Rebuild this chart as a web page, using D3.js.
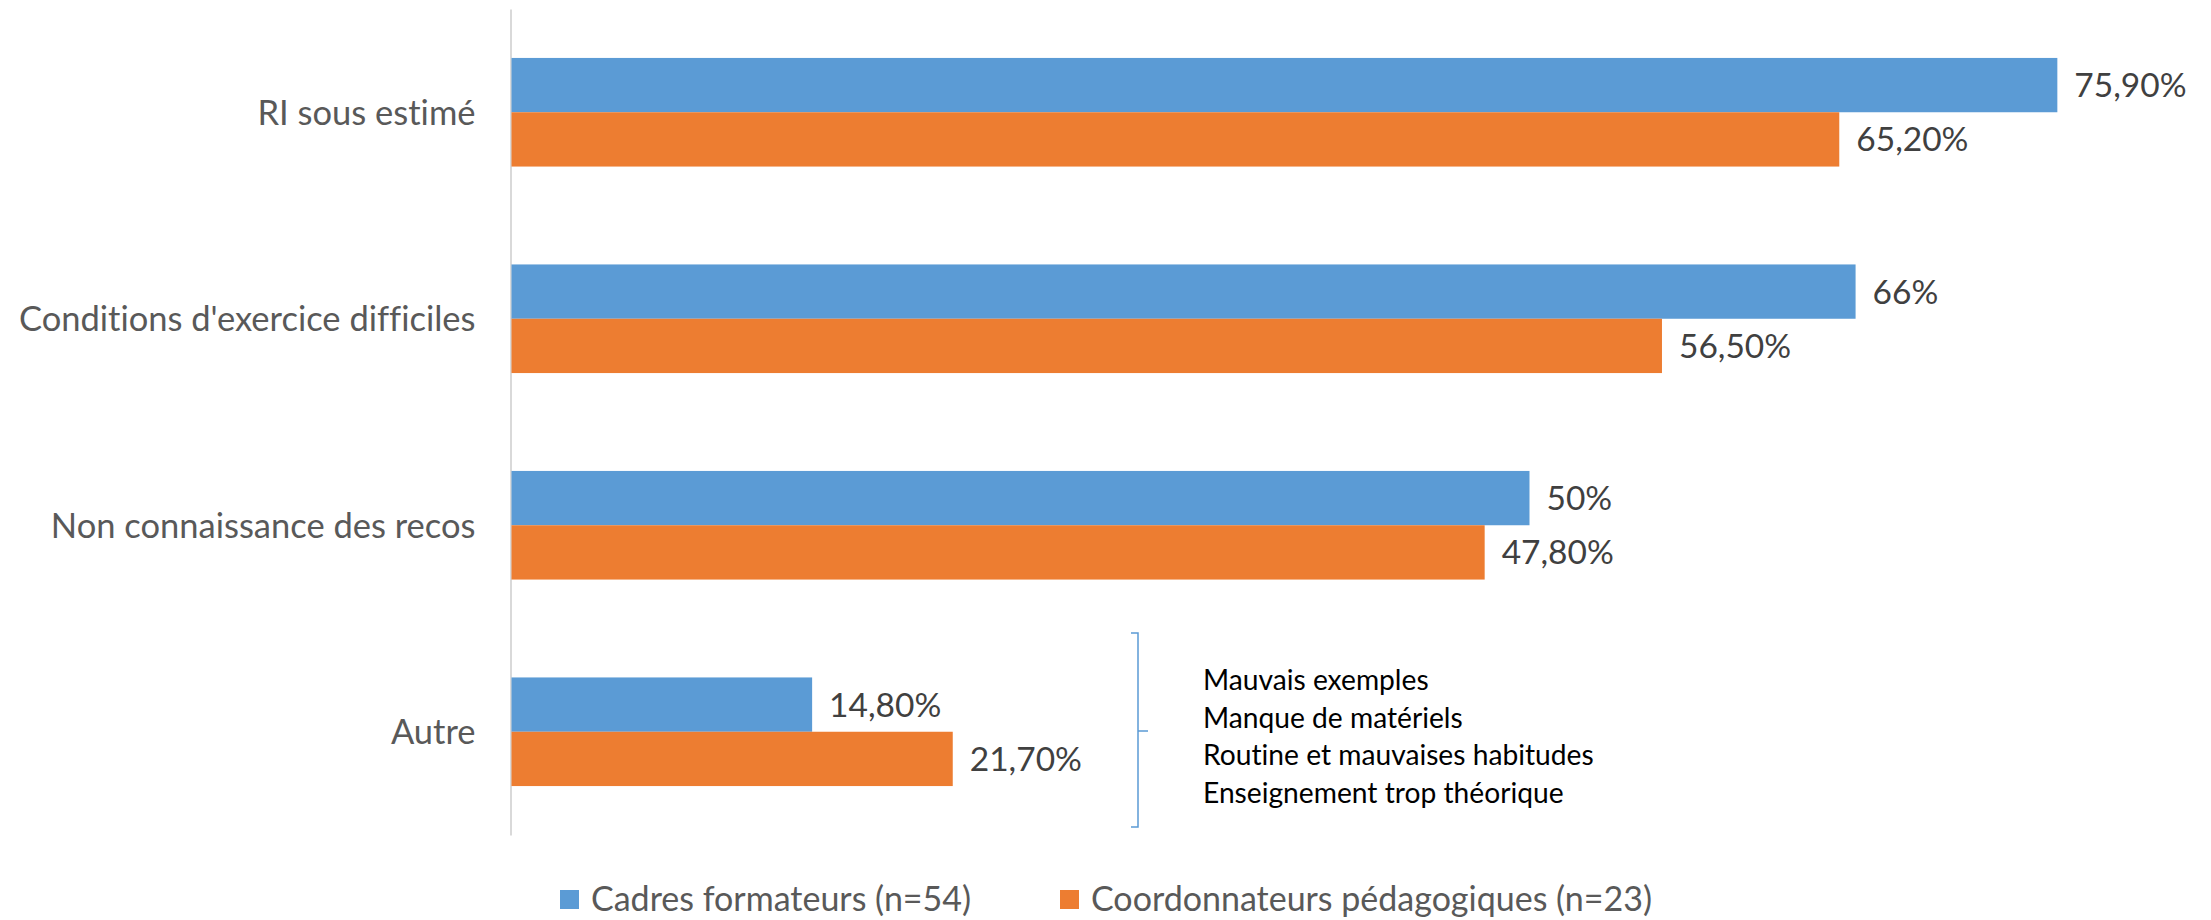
<!DOCTYPE html>
<html>
<head>
<meta charset="utf-8">
<script src="https://cdn.jsdelivr.net/npm/d3@7"></script>
<style>
  body { margin: 0; background: #fff; }
  text { font-family: Lato, "Open Sans", sans-serif; font-variant-ligatures: none; font-feature-settings: "liga" 0; }
</style>
</head>
<body>
<div id="chart"></div>
<script>
const categories = ["RI sous estimé", "Conditions d'exercice difficiles", "Non connaissance des recos", "Autre"];
const series = ["Cadres formateurs (n=54)", "Coordonnateurs pédagogiques (n=23)"];
const cadres = [75.9, 66, 50, 14.8];
const coordonnateurs = [65.2, 56.5, 47.8, 21.7];
const cadresLabels = ["75,90%", "66%", "50%", "14,80%"];
const coordLabels = ["65,20%", "56,50%", "47,80%", "21,70%"];
const autreDetails = ["Mauvais exemples", "Manque de matériels", "Routine et mauvaises habitudes", "Enseignement trop théorique"];
const colors = ["#5B9BD5", "#ED7D31"];

const width = 2211, height = 920;
const left = 510.5;

const svg = d3.select("#chart").append("svg")
    .attr("width", width)
    .attr("height", height);

const x = d3.scaleLinear()
    .domain([0, 80])
    .range([left, left + 80 * 20.38]);

const y = d3.scaleBand()
    .domain(categories)
    .range([9, 835]);

const bw = y.bandwidth();
const inner = d3.scaleBand()
    .domain(series)
    .range([bw * 0.237, bw * 0.763]);

// category axis
const axis = svg.append("g")
    .attr("transform", `translate(${left},0)`)
    .call(d3.axisLeft(y).tickSize(0).tickSizeOuter(0).tickPadding(35));
axis.select(".domain").attr("stroke", "#D9D9D9").attr("stroke-width", 2);
axis.selectAll(".tick text")
    .style("font-size", "34.5px")
    .style("font-family", "Lato, sans-serif")
    .attr("fill", "#595959")
    .attr("dy", "0.36em");

const rows = categories.map((c, i) => ({
    cat: c,
    vals: [
        {s: series[0], v: cadres[i], label: cadresLabels[i]},
        {s: series[1], v: coordonnateurs[i], label: coordLabels[i]}
    ]
}));

const groups = svg.selectAll(".grp")
    .data(rows)
    .enter().append("g")
    .attr("class", "grp")
    .attr("transform", d => `translate(0,${y(d.cat)})`);

groups.selectAll("rect")
    .data(d => d.vals)
    .enter().append("rect")
    .attr("x", x(0) + 1)
    .attr("y", d => inner(d.s))
    .attr("width", d => x(d.v) - x(0) - 1)
    .attr("height", inner.bandwidth())
    .attr("fill", (d, i) => colors[i]);

groups.selectAll(".value-label")
    .data(d => d.vals)
    .enter().append("text")
    .attr("class", "value-label")
    .attr("x", d => x(d.v) + 17)
    .attr("y", d => inner(d.s) + inner.bandwidth() / 2)
    .attr("dy", "0.36em")
    .text(d => d.label)
    .style("font-size", "33.5px")
    .attr("fill", "#404040");

// brace next to "Autre"
const bx = 1138, bTop = 633, bBot = 827, bMid = 731;
svg.append("path")
    .attr("d", `M${bx - 7},${bTop} H${bx} V${bBot} H${bx - 7} M${bx},${bMid} H${bx + 10}`)
    .attr("fill", "none")
    .attr("stroke", "#5B9BD5")
    .attr("stroke-width", 1.5);

svg.append("g")
    .selectAll("text")
    .data(autreDetails)
    .enter().append("text")
    .attr("x", 1203)
    .attr("y", (d, i) => 690 + i * 37.5)
    .text(d => d)
    .style("font-size", "28.2px")
    .attr("fill", "#000");

// legend
const legendX = [560, 1060];
const legend = svg.append("g")
    .selectAll("g")
    .data(series)
    .enter().append("g")
    .attr("transform", (d, i) => `translate(${legendX[i]},890)`);

legend.append("rect")
    .attr("width", 19)
    .attr("height", 19)
    .attr("fill", (d, i) => colors[i]);

legend.append("text")
    .attr("x", 31)
    .attr("y", 9.5)
    .attr("dy", "0.34em")
    .text(d => d)
    .style("font-size", "34px")
    .attr("fill", "#595959");
</script>
</body>
</html>
